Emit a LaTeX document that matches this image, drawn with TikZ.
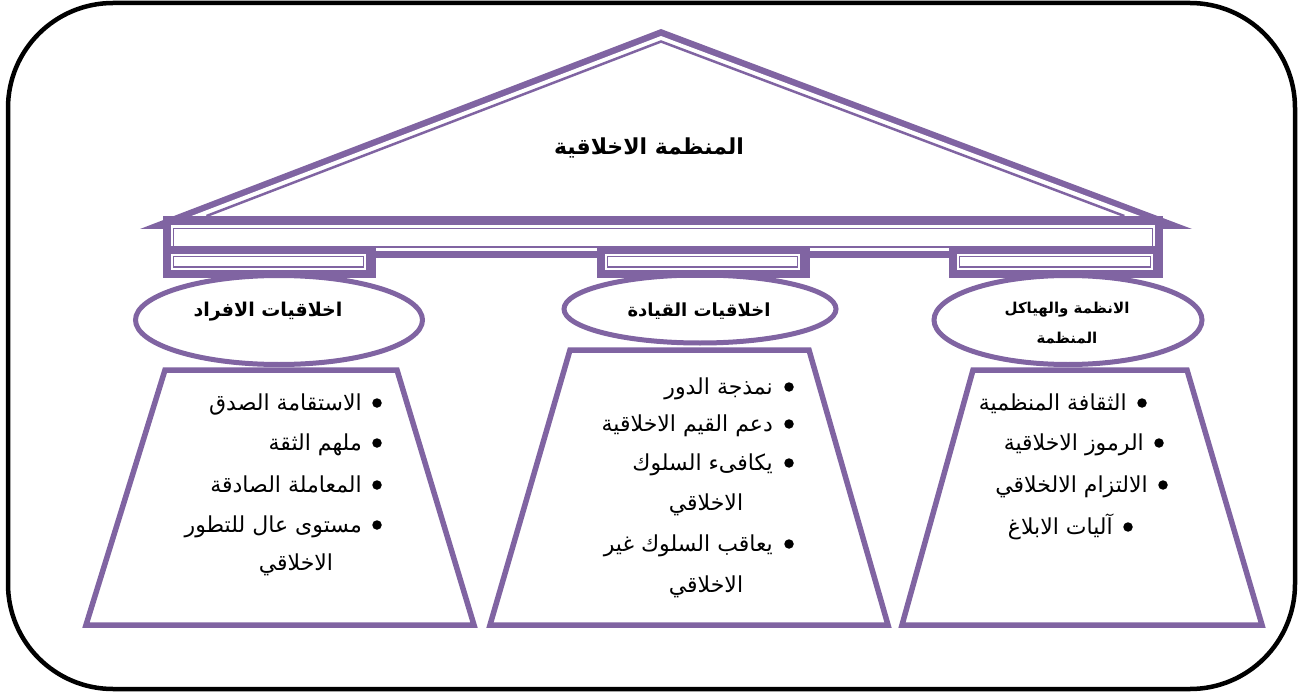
\documentclass[tikz,border=0pt]{standalone}
\usepackage{fontspec}
\TeXXeTstate=1
\newfontfamily\ar[Script=Arabic]{DejaVu Sans}
\definecolor{pur}{RGB}{128,100,162}
\begin{document}
\begin{tikzpicture}[x=1pt,y=-1pt,
  frame/.style={draw=black, line width=4.5pt, rounded corners=105pt},
  trap/.style={draw=pur, line width=5.5pt, fill=white, line join=miter},
  oval/.style={draw=pur, line width=5pt, fill=white},
  item/.style={anchor=base east, inner sep=0pt, font=\ar\fontsize{22}{26}\selectfont},
  cont/.style={anchor=base, inner sep=0pt, font=\ar\fontsize{22}{26}\selectfont},
  bul/.style={circle, fill=black, inner sep=0pt, minimum size=9.5pt},
  ttl/.style={font=\ar\bfseries\fontsize{18}{22}\selectfont, align=center, inner sep=0pt},
  capfill/.style={fill=pur},
  capline/.style={draw=pur, line width=1.2pt}]
\useasboundingbox (0,0) rectangle (1301,695);
\draw[frame] (8,3) rectangle (1295,689);

% trapezoids
\draw[trap] (165,370) -- (397,370) -- (474,625) -- (86,625) -- cycle;
\draw[trap] (570,350) -- (809,350) -- (888,625) -- (490,625) -- cycle;
\draw[trap] (973,370) -- (1187,370) -- (1262,625) -- (902,625) -- cycle;

% ovals
\draw[oval] (279,320) ellipse [x radius=143.5pt, y radius=44.5pt];
\draw[oval] (700,309) ellipse [x radius=136pt, y radius=34pt];
\draw[oval] (1068,320) ellipse [x radius=134pt, y radius=44.5pt];

% roof
\fill[pur] (140,229) -- (661,29) -- (1192,229) -- cycle;
\fill[white] (191.5,216) -- (661,36) -- (1140,216) -- cycle;
\draw[pur, line width=2.5pt, line join=miter] (206.5,216) -- (661,41.5) -- (1124.3,216);

% beam
\fill[pur] (163,216) rectangle (1163,258);
\fill[white] (171,225) rectangle (1155,250.5);
\draw[pur, line width=1.6pt] (173.5,228.5) rectangle (1152.5,247);

% capitals
\foreach \a/\b in {163/376, 597/810, 949/1163}{
  \fill[capfill] (\a,246) rectangle (\b,278);
  \fill[white] (\a+8,254) rectangle (\b-10,269.5);
  \draw[capline] (\a+10.5,256.5) rectangle (\b-12.5,267);
}

% titles
\node[ttl, font=\ar\bfseries\fontsize{22}{26}\selectfont] (roof) at (649,148) {\beginR المنظمة الاخلاقية\endR};
\node[ttl, font=\ar\bfseries\fontsize{19}{22}\selectfont] (t1) at (268,312) {\beginR اخلاقيات الافراد\endR};
\node[ttl] (t2) at (699,311) {\beginR اخلاقيات القيادة\endR};
\node[ttl, font=\ar\bfseries\fontsize{15}{18}\selectfont] (t3a) at (1067,310) {\beginR الانظمة والهياكل\endR};
\node[ttl, font=\ar\bfseries\fontsize{15}{18}\selectfont] (t3b) at (1067,338) {\beginR المنظمة\endR};

% left items
\node[bul] (lb1) at (377,403) {};
\node[bul] (lb2) at (377,443) {};
\node[bul] (lb3) at (377,485) {};
\node[bul] (lb4) at (377,525) {};
\node[item] (l1) at (362,410) {\beginR الاستقامة الصدق\endR};
\node[item] (l2) at (362,450) {\beginR ملهم الثقة\endR};
\node[item] (l3) at (362,492) {\beginR المعاملة الصادقة\endR};
\node[item] (l4) at (362,532) {\beginR مستوى عال للتطور\endR};
\node[cont] (l4b) at (296,570) {\beginR الاخلاقي\endR};

% middle items
\node[bul] (mb1) at (789,387) {};
\node[bul] (mb2) at (789,424) {};
\node[bul] (mb3) at (789,463) {};
\node[bul] (mb4) at (789,544) {};
\node[item] (m1) at (773,394) {\beginR نمذجة الدور\endR};
\node[item] (m2) at (773,431) {\beginR دعم القيم الاخلاقية\endR};
\node[item] (m3) at (773,470) {\beginR يكافىء السلوك\endR};
\node[cont] (m3b) at (706,510) {\beginR الاخلاقي\endR};
\node[item] (m4) at (773,551) {\beginR يعاقب السلوك غير\endR};
\node[cont] (m4b) at (706,592) {\beginR الاخلاقي\endR};

% right items
\node[bul] (rb1) at (1142,403) {};
\node[bul] (rb2) at (1159,443) {};
\node[bul] (rb3) at (1163,485) {};
\node[bul] (rb4) at (1128,527) {};
\node[item] (r1) at (1127,410) {\beginR الثقافة المنظمية\endR};
\node[item] (r2) at (1144,450) {\beginR الرموز الاخلاقية\endR};
\node[item] (r3) at (1148,492) {\beginR الالتزام الالخلاقي\endR};
\node[item] (r4) at (1113,534) {\beginR آليات الابلاغ\endR};
\end{tikzpicture}
\end{document}
